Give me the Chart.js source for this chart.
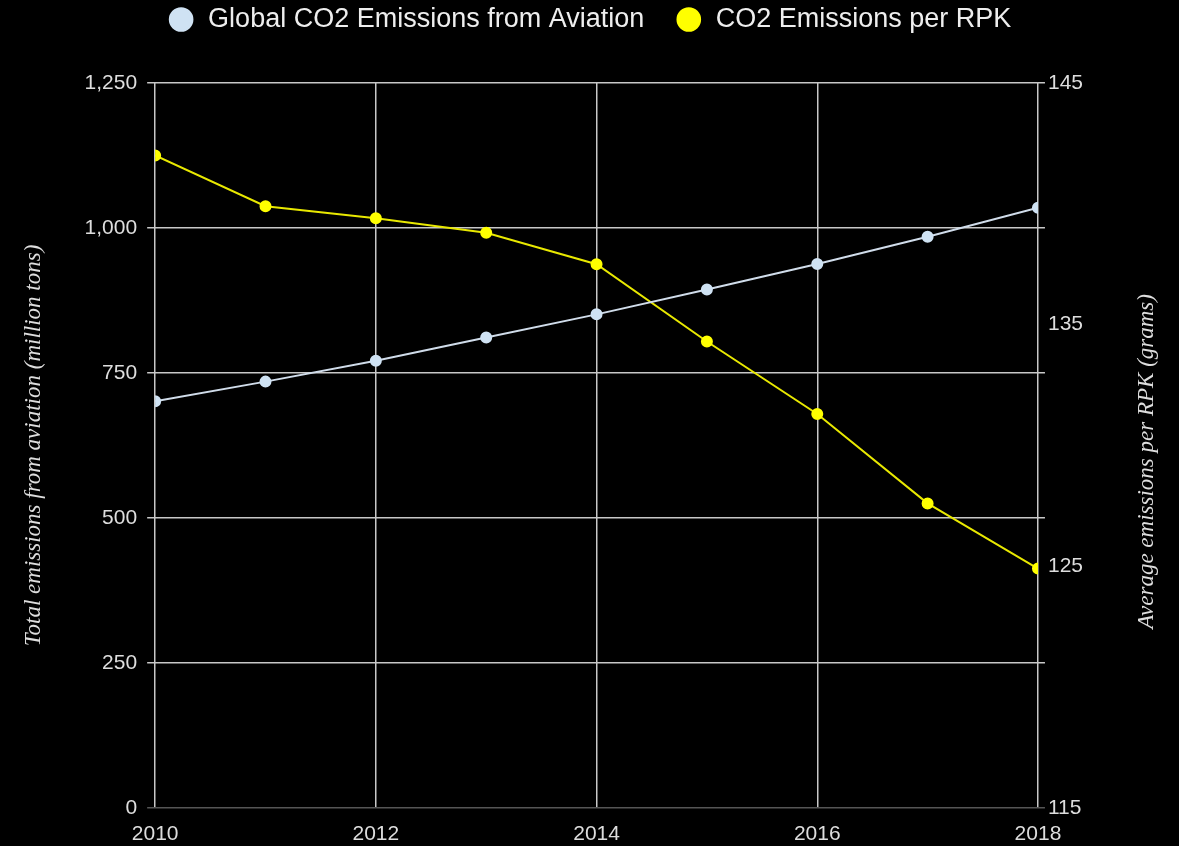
<!DOCTYPE html>
<html>
<head>
<meta charset="utf-8">
<script src="https://cdn.jsdelivr.net/npm/chart.js@4.4.1/dist/chart.umd.min.js"></script>
<style>
  html, body { margin: 0; padding: 0; background: #000; }
  #wrap { width: 1179px; height: 846px; }
</style>
</head>
<body>
<div id="wrap"><canvas id="c" width="1179" height="846"></canvas></div>
<script>
const years = [2010, 2011, 2012, 2013, 2014, 2015, 2016, 2017, 2018];
const totalEmissions = [701, 735, 771, 811, 851, 894, 938, 985, 1035];
const emissionsPerRPK = [142.0, 139.9, 139.4, 138.8, 137.5, 134.3, 131.3, 127.6, 124.9];
const seriesNames = ['Global CO2 Emissions from Aviation', 'CO2 Emissions per RPK'];
const leftTitle = 'Total emissions from aviation (million tons)';
const rightTitle = 'Average emissions per RPK (grams)';

const gridColor = '#c8c8c8';
const zeroColor = '#555555';
const textColor = '#dddddd';
const titleFont = 'italic 23px "Liberation Serif", "Times New Roman", serif';

const toPoints = (vals) => vals.map((v, i) => ({ x: years[i], y: v }));

// draws the right-hand axis title reading bottom-to-top, like the left one
const rightTitlePlugin = {
  id: 'rightTitle',
  afterDraw(chart) {
    const { ctx, chartArea } = chart;
    ctx.save();
    ctx.translate(1147, (chartArea.top + chartArea.bottom) / 2 + 16);
    ctx.rotate(-Math.PI / 2);
    ctx.font = titleFont;
    ctx.fillStyle = textColor;
    ctx.textAlign = 'center';
    ctx.textBaseline = 'middle';
    ctx.fillText(rightTitle, 0, 0);
    ctx.restore();
  }
};

new Chart(document.getElementById('c'), {
  type: 'line',
  data: {
    datasets: [
      {
        label: seriesNames[0],
        data: toPoints(totalEmissions),
        yAxisID: 'y',
        borderColor: '#d0dcea',
        backgroundColor: '#cfe2f3',
        pointBackgroundColor: '#cfe2f3',
        pointBorderColor: '#cfe2f3',
        borderWidth: 2,
        pointRadius: 5,
        tension: 0
      },
      {
        label: seriesNames[1],
        data: toPoints(emissionsPerRPK),
        yAxisID: 'y2',
        borderColor: '#e8e800',
        backgroundColor: '#ffff00',
        pointBackgroundColor: '#ffff00',
        pointBorderColor: '#ffff00',
        borderWidth: 2,
        pointRadius: 5,
        tension: 0
      }
    ]
  },
  plugins: [rightTitlePlugin],
  options: {
    responsive: false,
    animation: false,
    layout: { padding: { left: 20, right: 20, top: -25, bottom: -15 } },
    plugins: {
      legend: {
        position: 'top',
        labels: {
          color: '#eeeeee',
          font: { family: 'Liberation Sans, Arial, sans-serif', size: 27 },
          usePointStyle: true,
          pointStyle: 'circle',
          boxHeight: 16,
          padding: 31
        }
      },
      tooltip: { enabled: false }
    },
    scales: {
      x: {
        type: 'linear',
        min: 2010,
        max: 2018,
        ticks: {
          stepSize: 2,
          color: textColor,
          font: { family: 'Liberation Sans, Arial, sans-serif', size: 21 },
          padding: 14,
          callback: (v) => String(v)
        },
        grid: { color: gridColor, lineWidth: 1.5, drawTicks: false },
        border: { display: false }
      },
      xTop: {
        type: 'linear',
        axis: 'x',
        position: 'top',
        min: 2010,
        max: 2018,
        ticks: { display: false },
        grid: { drawOnChartArea: false, color: 'rgba(0,0,0,0)', tickLength: 40 },
        border: { display: false }
      },
      y: {
        position: 'left',
        min: 0,
        max: 1250,
        ticks: {
          stepSize: 250,
          color: textColor,
          font: { family: 'Liberation Sans, Arial, sans-serif', size: 21 },
          padding: 10
        },
        grid: {
          color: (ctx) => (ctx.tick && ctx.tick.value === 0 ? zeroColor : gridColor),
          lineWidth: 1.5,
          tickLength: 8
        },
        border: { display: false },
        title: {
          display: true,
          text: leftTitle,
          color: textColor,
          font: { family: 'Liberation Serif, Times New Roman, serif', size: 23, style: 'italic' },
          padding: { top: 0, bottom: 27 }
        }
      },
      yExt: {
        position: 'right',
        min: 0,
        max: 1250,
        ticks: { display: false, stepSize: 250 },
        grid: {
          drawOnChartArea: false,
          color: (ctx) => (ctx.tick && ctx.tick.value === 0 ? zeroColor : gridColor),
          lineWidth: 1.5,
          tickLength: 7
        },
        border: { display: false }
      },
      y2: {
        position: 'right',
        min: 115,
        max: 145,
        ticks: {
          stepSize: 10,
          color: textColor,
          font: { family: 'Liberation Sans, Arial, sans-serif', size: 21 },
          padding: 3
        },
        grid: { display: false, drawTicks: false },
        border: { display: false }
      },
      yPad: {
        position: 'right',
        min: 0,
        max: 1,
        ticks: { display: false },
        grid: { drawOnChartArea: false, color: 'rgba(0,0,0,0)', tickLength: 73 },
        border: { display: false }
      }
    }
  }
});
</script>
</body>
</html>
